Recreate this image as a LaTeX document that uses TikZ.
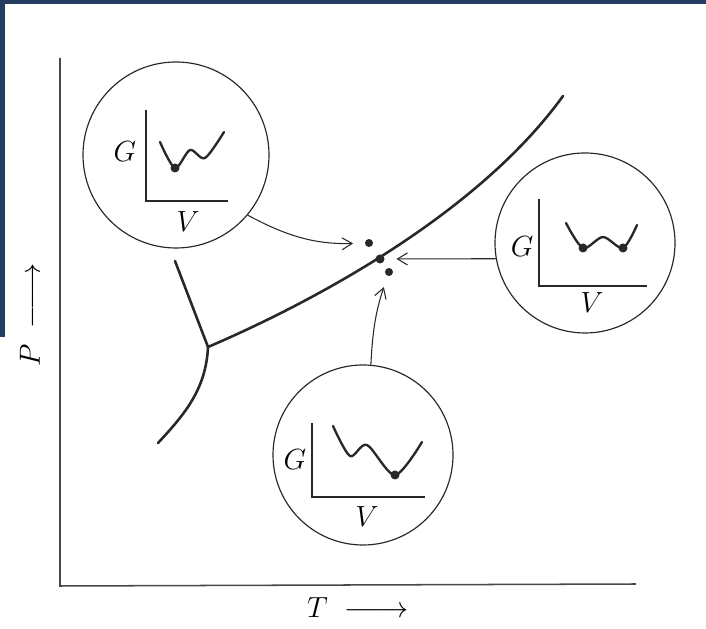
\documentclass[tikz,border=0pt]{standalone}
\usepackage{amsmath}
\usepackage{tikz}
\usetikzlibrary{arrows.meta}
\definecolor{framenavy}{RGB}{35,62,96}
\definecolor{inkgray}{RGB}{40,40,40}

\begin{document}
\begin{tikzpicture}[
    x=0.03cm, y=0.03cm,
    every node/.style={font=\fontsize{23}{27}\selectfont},
    bubble/.style={circle, draw=inkgray, line width=1pt, minimum size=5.4cm, inner sep=0pt},
    statedot/.style={circle, fill=inkgray, minimum size=0.24cm, inner sep=0pt},
    wellpt/.style={circle, fill=inkgray, minimum size=0.27cm, inner sep=0pt},
    phase/.style={line width=2.2pt, draw=inkgray, line cap=round},
    axis/.style={line width=1.3pt, draw=inkgray!85},
    mini/.style={line width=1.1pt, draw=inkgray},
    well/.style={line width=2pt, draw=inkgray, line cap=round},
    pointer/.style={-{Straight Barb[length=3mm, width=3.6mm]}, line width=0.9pt, draw=inkgray, shorten >=10pt}
]

\useasboundingbox (0,0) rectangle (706,629);
\fill[framenavy] (0,625) rectangle (706,629);
\fill[framenavy] (0,292) rectangle (5,629);

\draw[axis] (60,571) -- (60,43) -- (636,45);
\node[rotate=90] (plabel) at (30,314) {$P\;\relbar\joinrel\longrightarrow$};
\node (tlabel) at (358,21) {$T\;\relbar\joinrel\longrightarrow$};

\coordinate (triple) at (208,282);
\draw[phase] (175,368) -- (triple);
\draw[phase] (triple) .. controls (206,240) and (185,215) .. (158,186);
\draw[phase] (triple) .. controls (320,330) and (480,418) .. (563,533);

\node[statedot] (upper) at (369,386) {};
\node[statedot, minimum size=0.27cm] (coexist) at (380,370) {};
\node[statedot] (lower) at (389,357) {};

\node[bubble, minimum size=5.58cm] (leftwell) at (176,474) {};
\node[bubble] (bothwell) at (585,386) {};
\node[bubble] (rightwell) at (363,174) {};

\begin{scope}[shift={(leftwell.center)}]
    \draw[mini] (-30,45) |- (52,-46);
    \node (gleft) at (-51,3) {$G$};
    \node (vleft) at (12,-67) {$V$};
    \draw[well] plot[smooth] coordinates {(-16,13) (-1,-13) (14,5) (29,-3) (48,23)};
    \node[wellpt] (minleft) at (-1,-13) {};
\end{scope}

\begin{scope}[shift={(bothwell.center)}]
    \draw[mini] (-46,44) |- (62,-43);
    \node (gboth) at (-63,-4) {$G$};
    \node (vboth) at (7,-60) {$V$};
    \draw[well] plot[smooth] coordinates {(-19,20) (-2,-5) (18,6) (38,-5) (52,18)};
    \node[wellpt] (minbothA) at (-2,-5) {};
    \node[wellpt] (minbothB) at (38,-5) {};
\end{scope}

\begin{scope}[shift={(rightwell.center)}]
    \draw[mini] (-51,32) |- (62,-42);
    \node (gright) at (-68,-5) {$G$};
    \node (vright) at (4,-62) {$V$};
    \draw[well] plot[smooth] coordinates {(-30,29) (-13,-1) (4,10) (32,-20) (59,13)};
    \node[wellpt] (minright) at (32,-20) {};
\end{scope}

\draw[pointer] (leftwell.-40) to[bend right=15] (upper);
\draw[pointer] (bothwell.190) -- (coexist);
\draw[pointer] (rightwell.85) to[bend left=8] (lower);

\end{tikzpicture}
\end{document}
